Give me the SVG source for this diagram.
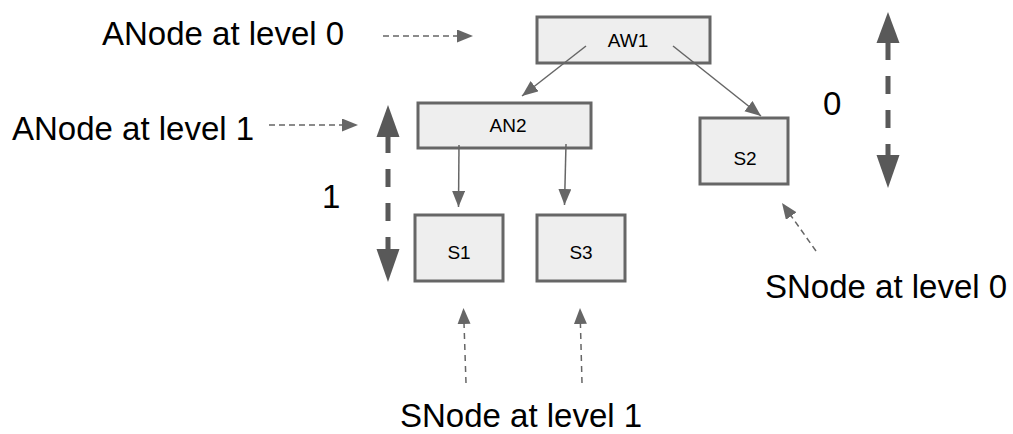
<svg xmlns="http://www.w3.org/2000/svg" width="1013" height="434" viewBox="0 0 1013 434">
  <style>
    .box { fill: #eeeeee; stroke: #666666; stroke-width: 3; }
    .nlabel { font-family: "Liberation Sans", Arial, sans-serif; font-size: 19px; fill: #000; text-anchor: middle; }
    .label { font-family: "Liberation Sans", Arial, sans-serif; font-size: 33px; fill: #000; }
    .edge { stroke: #666666; stroke-width: 1.5; fill: none; marker-end: url(#head); }
    .pointer { stroke: #666666; stroke-width: 1.5; fill: none; stroke-dasharray: 6 4; marker-end: url(#head); }
    .level { stroke: #595959; stroke-width: 5; fill: none; stroke-dasharray: 18 16; }
    .bighead { fill: #595959; }
  </style>
  <defs>
    <marker id="head" markerUnits="userSpaceOnUse" markerWidth="18" markerHeight="14" refX="16" refY="6.5" orient="auto">
      <path d="M0,0 L16,6.5 L0,13 Z" fill="#666666"/>
    </marker>
  </defs>

  <!-- tree nodes -->
  <g id="AW1">
    <rect class="box" x="537" y="17" width="173" height="46"/>
    <text class="nlabel" x="628" y="47">AW1</text>
  </g>
  <g id="AN2">
    <rect class="box" x="418" y="103" width="173" height="45"/>
    <text class="nlabel" x="508" y="132">AN2</text>
  </g>
  <g id="S1">
    <rect class="box" x="415" y="215" width="88" height="66"/>
    <text class="nlabel" x="459" y="259">S1</text>
  </g>
  <g id="S3">
    <rect class="box" x="537" y="215" width="88" height="66"/>
    <text class="nlabel" x="581" y="259">S3</text>
  </g>
  <g id="S2">
    <rect class="box" x="700" y="118" width="88" height="66"/>
    <text class="nlabel" x="745" y="165">S2</text>
  </g>

  <!-- parent/child edges -->
  <g id="connectors">
    <line class="edge" x1="586" y1="46" x2="522" y2="96"/>
    <line class="edge" x1="673" y1="46" x2="761" y2="116"/>
    <line class="edge" x1="459" y1="145" x2="458.5" y2="207"/>
    <line class="edge" x1="566" y1="144" x2="564.5" y2="205"/>

    <!-- annotation pointers -->
    <line class="pointer" x1="383" y1="36" x2="473" y2="36"/>
    <line class="pointer" x1="269" y1="125" x2="358" y2="125"/>
    <line class="pointer" x1="816" y1="251" x2="782" y2="203"/>
    <line class="pointer" x1="466" y1="383" x2="463.5" y2="308" style="stroke-dasharray: 6 5"/>
    <line class="pointer" x1="582" y1="383" x2="580" y2="308" style="stroke-dasharray: 6 5"/>

    <!-- level extents -->
    <line class="level" x1="388" y1="135" x2="388" y2="252"/>
    <polygon class="bighead" points="388,105 376.5,137 399.5,137"/>
    <polygon class="bighead" points="388,282 376.5,249 399.5,249"/>

    <line class="level" x1="888" y1="42" x2="888" y2="157"/>
    <polygon class="bighead" points="888,12 876.5,43 899.5,43"/>
    <polygon class="bighead" points="888,188 876.5,155 899.5,155"/>
  </g>

  <!-- annotations -->
  <text class="label" x="102" y="45">ANode at level 0</text>
  <text class="label" x="12" y="140">ANode at level 1</text>
  <text class="label" x="322" y="208">1</text>
  <text class="label" x="823" y="115">0</text>
  <text class="label" x="765" y="298">SNode at level 0</text>
  <text class="label" x="400" y="427">SNode at level 1</text>
</svg>
